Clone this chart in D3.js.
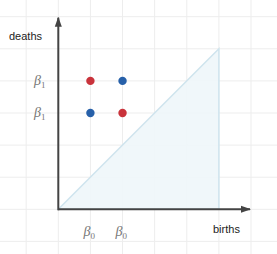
<!DOCTYPE html>
<html><head><meta charset="utf-8">
<script src="https://cdn.jsdelivr.net/npm/d3@7"></script>
<style>body{margin:0;background:#fff;}svg{display:block;}</style>
</head><body>
<script>
const gridValues = [-1, 0, 1, 2, 3, 4, 5, 6, 7];
const points = [
  {birth: 1, death: 4, type: "red"},
  {birth: 2, death: 4, type: "blue"},
  {birth: 1, death: 3, type: "blue"},
  {birth: 2, death: 3, type: "red"}
];
const yTickValues = [4, 3];
const yTickLabels = ["1", "1"];
const xTickValues = [1, 2];
const xTickLabels = ["0", "0"];
const triangle = [[0, 0], [5, 5], [5, 0]];
const axisMax = 6;

const W = 277, H = 254;
const x = d3.scaleLinear().domain([0, 6]).range([58.3, 251]);
const y = d3.scaleLinear().domain([0, 6]).range([209.3, 16.7]);
const colors = {red: "#c9333b", blue: "#2760a9"};

const svg = d3.select("body").append("svg").attr("width", W).attr("height", H);

// grid
svg.append("g").selectAll("line").data(gridValues).join("line")
  .attr("x1", d => x(d)).attr("x2", d => x(d)).attr("y1", 0).attr("y2", H)
  .attr("stroke", "#ededed").attr("stroke-width", 1);
svg.append("g").selectAll("line").data(gridValues).join("line")
  .attr("y1", d => y(d)).attr("y2", d => y(d)).attr("x1", 0).attr("x2", W)
  .attr("stroke", "#ededed").attr("stroke-width", 1);

// triangle
svg.append("path")
  .attr("d", d3.line().x(d => x(d[0])).y(d => y(d[1]))(triangle) + "Z")
  .attr("fill", "#eef6fa").attr("fill-opacity", 0.9)
  .attr("stroke", "#cfe4ee").attr("stroke-width", 1.5);

// axes with arrows
const defs = svg.append("defs");
defs.append("marker").attr("id", "arr").attr("viewBox", "0 0 10 10")
  .attr("refX", 9).attr("refY", 5).attr("markerWidth", 5).attr("markerHeight", 5)
  .attr("orient", "auto").attr("markerUnits", "strokeWidth")
  .append("path").attr("d", "M0,1.5 L10,5 L0,8.5 Z").attr("fill", "#444");

svg.append("line").attr("x1", x(0)).attr("y1", y(0)).attr("x2", x(axisMax) - 1).attr("y2", y(0))
  .attr("stroke", "#444").attr("stroke-width", 2).attr("marker-end", "url(#arr)");
svg.append("line").attr("x1", x(0)).attr("y1", y(0) + 1).attr("x2", x(0)).attr("y2", y(axisMax) + 1)
  .attr("stroke", "#444").attr("stroke-width", 2).attr("marker-end", "url(#arr)");

// axis titles
svg.append("text").attr("x", 9).attr("y", 40).text("deaths")
  .attr("font-family", "Liberation Sans, Arial, sans-serif").attr("font-size", 11).attr("fill", "#222");
svg.append("text").attr("x", 213).attr("y", 233).text("births")
  .attr("font-family", "Liberation Sans, Arial, sans-serif").attr("font-size", 11).attr("fill", "#222");

// tick labels (beta)
function beta(sel, sub) {
  sel.append("tspan").text("β").attr("font-style", "italic");
  sel.append("tspan").text(sub).attr("font-size", 9).attr("dy", 3);
}
yTickValues.forEach((v, i) => {
  const t = svg.append("text").attr("x", 34).attr("y", y(v) + 4)
    .attr("font-family", "Liberation Serif, Times New Roman, serif").attr("font-size", 14).attr("fill", "#777");
  beta(t, yTickLabels[i]);
});
xTickValues.forEach((v, i) => {
  const t = svg.append("text").attr("x", x(v) - 7).attr("y", 236)
    .attr("font-family", "Liberation Serif, Times New Roman, serif").attr("font-size", 14).attr("fill", "#777");
  beta(t, xTickLabels[i]);
});

// points
svg.append("g").selectAll("circle").data(points).join("circle")
  .attr("cx", d => x(d.birth)).attr("cy", d => y(d.death)).attr("r", 4.2)
  .attr("fill", d => colors[d.type]);
</script>
</body></html>
